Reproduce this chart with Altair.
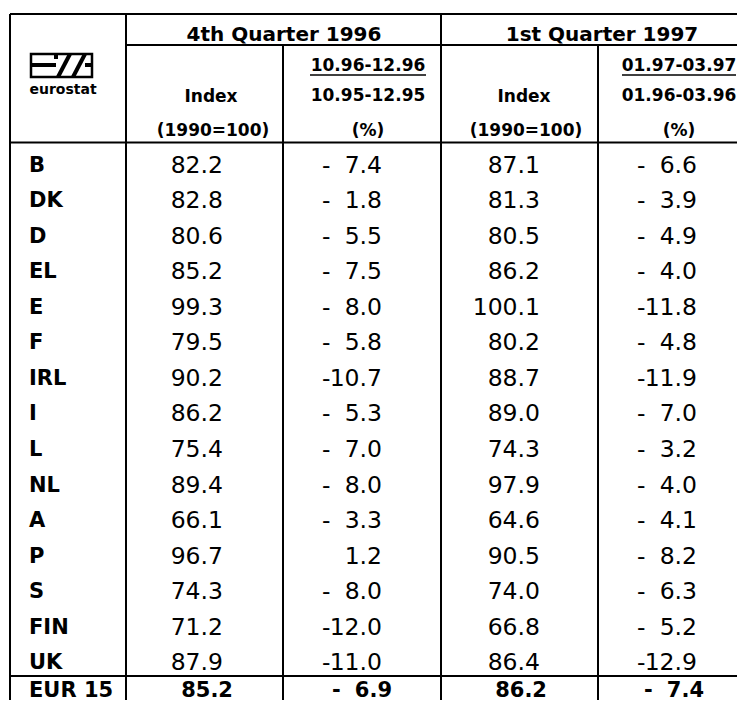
import altair as alt
import pandas as pd

# ---------------- data ----------------
countries = ["B", "DK", "D", "EL", "E", "F", "IRL", "I", "L", "NL", "A", "P", "S", "FIN", "UK"]
index_q4_1996 = [82.2, 82.8, 80.6, 85.2, 99.3, 79.5, 90.2, 86.2, 75.4, 89.4, 66.1, 96.7, 74.3, 71.2, 87.9]
change_q4_1996 = [-7.4, -1.8, -5.5, -7.5, -8.0, -5.8, -10.7, -5.3, -7.0, -8.0, -3.3, 1.2, -8.0, -12.0, -11.0]
index_q1_1997 = [87.1, 81.3, 80.5, 86.2, 100.1, 80.2, 88.7, 89.0, 74.3, 97.9, 64.6, 90.5, 74.0, 66.8, 86.4]
change_q1_1997 = [-6.6, -3.9, -4.9, -4.0, -11.8, -4.8, -11.9, -7.0, -3.2, -4.0, -4.1, -8.2, -6.3, -5.2, -12.9]
total_label = "EUR 15"
total_index = [85.2, 86.2]
total_change = [-6.9, -7.4]

quarter_titles = ["4th Quarter 1996", "1st Quarter 1997"]
index_header = ["Index", "(1990=100)"]
period_headers = [["10.96-12.96", "10.95-12.95", "(%)"],
                  ["01.97-03.97", "01.96-03.96", "(%)"]]
logo_text = "eurostat"

# ---------------- layout (page pixel coordinates) ----------------
FONT = "DejaVu Sans"
W, H = 729, 692
ROW_Y0, ROW_STEP = 165.5, 35.57
TOTAL_Y = 690.5
LABEL_X = 29
INDEX_RIGHT = [223, 540]
SIGN_LEFT = [322, 637]
CHANGE_RIGHT = [382, 697]
TOTAL_SHIFT = [10, 7]
QUARTER_X = [284, 602]
INDEX_HEAD_X = [211, 524]
PERIOD_HEAD_X = [368, 679]

xs = alt.Scale(domain=[8, 8 + W], nice=False, zero=False)
ys = alt.Scale(domain=[8, 8 + H], nice=False, zero=False, reverse=True)


def texts(df, align="center", size=17, weight="normal"):
    return alt.Chart(df).mark_text(
        align=align, baseline="middle", font=FONT, fontSize=size,
        fontWeight=weight, color="black"
    ).encode(
        x=alt.X("x:Q", scale=xs, axis=None),
        y=alt.Y("y:Q", scale=ys, axis=None),
        text="t:N",
    )


row_y = [ROW_Y0 + ROW_STEP * i for i in range(len(countries))]
tot_y = TOTAL_Y

labels = pd.DataFrame({"x": LABEL_X, "y": row_y, "t": countries})
labels_tot = pd.DataFrame({"x": [LABEL_X], "y": [tot_y], "t": [total_label]})

idx_rows, sign_rows, chg_rows = [], [], []
for k, (ivals, cvals) in enumerate([(index_q4_1996, change_q4_1996), (index_q1_1997, change_q1_1997)]):
    for y, iv, cv in zip(row_y, ivals, cvals):
        idx_rows.append({"x": INDEX_RIGHT[k], "y": y, "t": f"{iv:.1f}"})
        chg_rows.append({"x": CHANGE_RIGHT[k], "y": y, "t": f"{abs(cv):.1f}"})
        if cv < 0:
            sign_rows.append({"x": SIGN_LEFT[k], "y": y, "t": "-"})

tidx_rows, tsign_rows, tchg_rows = [], [], []
for k in range(2):
    s = TOTAL_SHIFT[k]
    tidx_rows.append({"x": INDEX_RIGHT[k] + s, "y": tot_y, "t": f"{total_index[k]:.1f}"})
    tchg_rows.append({"x": CHANGE_RIGHT[k] + s, "y": tot_y, "t": f"{abs(total_change[k]):.1f}"})
    if total_change[k] < 0:
        tsign_rows.append({"x": SIGN_LEFT[k] + s, "y": tot_y, "t": "-"})

quarters = pd.DataFrame({"x": QUARTER_X, "y": [35, 35], "t": quarter_titles})
heads = []
for k in range(2):
    heads.append({"x": INDEX_HEAD_X[k], "y": 97, "t": index_header[0]})
    heads.append({"x": INDEX_HEAD_X[k] + 2, "y": 131, "t": index_header[1]})
    for t, y in zip(period_headers[k], [66, 96, 131]):
        heads.append({"x": PERIOD_HEAD_X[k], "y": y, "t": t})
heads = pd.DataFrame(heads)

logo_txt = pd.DataFrame({"x": [63], "y": [90], "t": [logo_text]})

# grid lines
grid = pd.DataFrame([
    {"x": 10, "x2": 745, "y": 14, "y2": 14},
    {"x": 126, "x2": 745, "y": 45, "y2": 45},
    {"x": 10, "x2": 745, "y": 142.5, "y2": 142.5},
    {"x": 10, "x2": 745, "y": 676, "y2": 676},
    {"x": 10, "x2": 10, "y": 14, "y2": 708},
    {"x": 126, "x2": 126, "y": 14, "y2": 708},
    {"x": 283, "x2": 283, "y": 45, "y2": 708},
    {"x": 441, "x2": 441, "y": 14, "y2": 708},
    {"x": 598, "x2": 598, "y": 45, "y2": 708},
])
underline = pd.DataFrame([
    {"x": PERIOD_HEAD_X[0] - 58, "x2": PERIOD_HEAD_X[0] + 58, "y": 75, "y2": 75},
    {"x": PERIOD_HEAD_X[1] - 57, "x2": PERIOD_HEAD_X[1] + 57, "y": 75, "y2": 75},
])
logo_box = pd.DataFrame([{"x": 31, "x2": 92, "y": 54, "y2": 77}])
logo_lines = pd.DataFrame([
    {"x": 31, "x2": 56, "y": 65, "y2": 65},
    {"x": 56, "x2": 56, "y": 54, "y2": 59},
    {"x": 58, "x2": 70, "y": 77, "y2": 54},
    {"x": 73, "x2": 85, "y": 77, "y2": 54},
    {"x": 85, "x2": 92, "y": 65, "y2": 65},
])


def rules(df, width=2):
    return alt.Chart(df).mark_rule(color="black", strokeWidth=width).encode(
        x=alt.X("x:Q", scale=xs, axis=None), x2="x2:Q",
        y=alt.Y("y:Q", scale=ys, axis=None), y2="y2:Q",
    )


box = alt.Chart(logo_box).mark_rect(fill="white", stroke="black", strokeWidth=2.5).encode(
    x=alt.X("x:Q", scale=xs, axis=None), x2="x2:Q",
    y=alt.Y("y:Q", scale=ys, axis=None), y2="y2:Q",
)

chart = alt.layer(
    rules(grid, 2),
    rules(underline, 1.5),
    box,
    rules(logo_lines, 4),
    texts(logo_txt, "center", 14, "bold"),
    texts(quarters, "center", 20, "bold"),
    texts(heads, "center", 17, "bold"),
    texts(labels, "left", 21, "bold"),
    texts(pd.DataFrame(idx_rows), "right", 23.5),
    texts(pd.DataFrame(sign_rows), "left", 23.5),
    texts(pd.DataFrame(chg_rows), "right", 23.5),
    texts(labels_tot, "left", 21, "bold"),
    texts(pd.DataFrame(tidx_rows), "right", 21, "bold"),
    texts(pd.DataFrame(tsign_rows), "left", 21, "bold"),
    texts(pd.DataFrame(tchg_rows), "right", 21, "bold"),
).properties(width=W, height=H, autosize="none", padding=0).configure_view(stroke=None)

chart.save("out.html", embed_options={"renderer": "svg", "actions": False})
